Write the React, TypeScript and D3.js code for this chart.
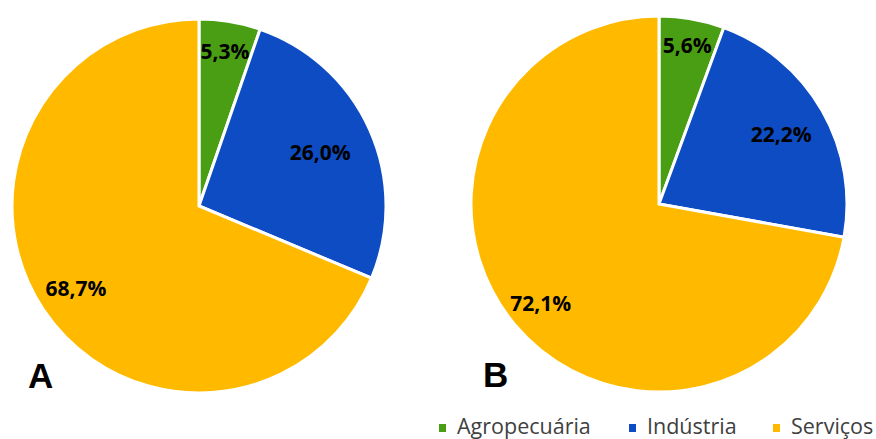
import React from "react";
import * as d3 from "d3";

const categories = ["Agropecuária", "Indústria", "Serviços"];
const valuesA = [5.3, 26.0, 68.7];
const valuesB = [5.6, 22.2, 72.1];
const labelsA = ["5,3%", "26,0%", "68,7%"];
const labelsB = ["5,6%", "22,2%", "72,1%"];
const panelTitles = ["A", "B"];
const colors = ["#4A9E14", "#0D4CC2", "#FFBA00"];

const W = 876;
const H = 439;

type PieProps = {
  cx: number;
  cy: number;
  r: number;
  values: number[];
  labels: string[];
  labelRatios: number[];
};

function Pie({ cx, cy, r, values, labels, labelRatios }: PieProps) {
  const pie = d3.pie<number>().sort(null).value((d) => d);
  const arcs = pie(values);
  const arc = d3.arc<d3.PieArcDatum<number>>().innerRadius(0).outerRadius(r);
  return (
    <g transform={`translate(${cx},${cy})`}>
      {arcs.map((a, i) => (
        <path key={i} d={arc(a) || ""} fill={colors[i]} stroke="#fff" strokeWidth={3} strokeLinejoin="miter" />
      ))}
      {arcs.map((a, i) => {
        const lr = r * labelRatios[i];
        const la = d3.arc<d3.PieArcDatum<number>>().innerRadius(lr).outerRadius(lr);
        const [x, y] = la.centroid(a);
        return (
          <text
            key={"t" + i}
            x={x}
            y={y}
            textAnchor="middle"
            dominantBaseline="central"
            fontFamily="'Open Sans', sans-serif"
            fontWeight="bold"
            fontSize={21}
            fill="#000"
          >
            {labels[i]}
          </text>
        );
      })}
    </g>
  );
}

export default function App() {
  const legendX = [439, 629, 773];
  return (
    <svg width={W} height={H} style={{ position: "absolute", left: 0, top: 0, background: "#fff" }}>
      <Pie cx={199} cy={206} r={187} values={valuesA} labels={labelsA} labelRatios={[0.84, 0.71, 0.79]} />
      <Pie cx={659} cy={204} r={188} values={valuesB} labels={labelsB} labelRatios={[0.86, 0.75, 0.82]} />
      <text x={28} y={388} fontFamily="'Liberation Sans', Arial, sans-serif" fontWeight="bold" fontSize={35} fill="#000">
        {panelTitles[0]}
      </text>
      <text x={483} y={387} fontFamily="'Liberation Sans', Arial, sans-serif" fontWeight="bold" fontSize={35} fill="#000">
        {panelTitles[1]}
      </text>
      {categories.map((c, i) => (
        <g key={c}>
          <rect x={legendX[i]} y={424} width={7} height={8} fill={colors[i]} />
          <text x={legendX[i] + 18} y={434} fontFamily="'Open Sans', sans-serif" fontSize={21.5} fill="#404040">
            {c}
          </text>
        </g>
      ))}
    </svg>
  );
}
